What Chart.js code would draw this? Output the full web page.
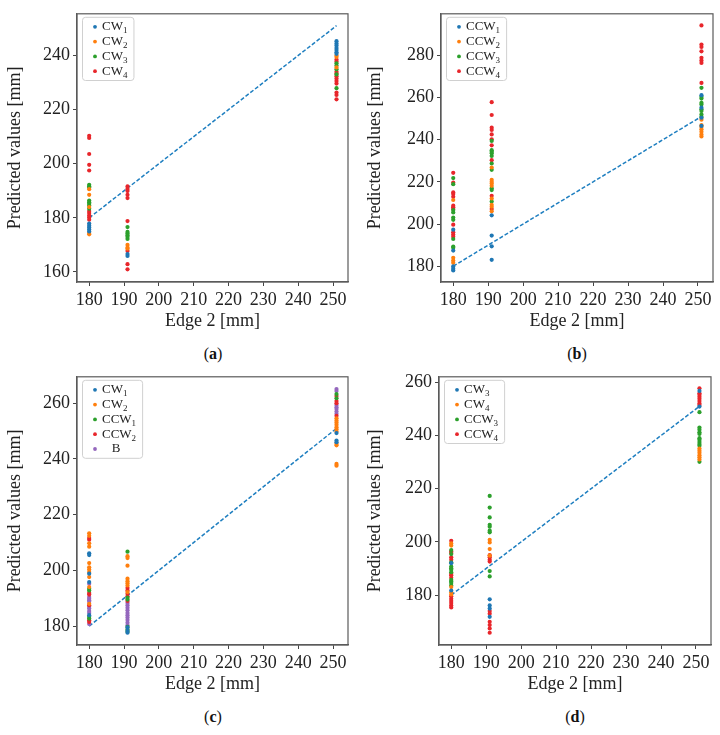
<!DOCTYPE html>
<html>
<head>
<meta charset="utf-8">
<script src="https://cdn.jsdelivr.net/npm/chart.js@4.4.0/dist/chart.umd.min.js"></script>
<style>
  html, body { margin: 0; padding: 0; background: #fff; }
  body { width: 720px; height: 735px; position: relative; overflow: hidden; }
  .panel { position: absolute; width: 360px; height: 340px; }
  .letter {
    position: absolute; width: 120px; text-align: center;
    font: 16px "Liberation Serif", serif; color: #111;
  }
</style>
</head>
<body>
<div class="panel" style="left:0;top:0"><canvas id="chartA"></canvas></div>
<div class="panel" style="left:360px;top:0"><canvas id="chartB"></canvas></div>
<div class="panel" style="left:0;top:363px"><canvas id="chartC"></canvas></div>
<div class="panel" style="left:360px;top:363px"><canvas id="chartD"></canvas></div>
<div class="letter" style="left:153px;top:345px">(<b>a</b>)</div>
<div class="letter" style="left:517px;top:345px">(<b>b</b>)</div>
<div class="letter" style="left:153px;top:708px">(<b>c</b>)</div>
<div class="letter" style="left:515px;top:708px">(<b>d</b>)</div>
<script>
// x positions of the three measured groups
const X_GROUPS = [180, 191, 251];
const X_TICKS = [180, 190, 200, 210, 220, 230, 240, 250];
// reference line y = x
const REF_LINE_X = [180, 251];
const REF_LINE_Y = [180, 251];

// (a) CW
const A_CW1 = [[177.9, 177.1, 176.4, 175.7, 175.0], [166.6, 165.9], [245.3, 244.4, 243.7, 242.8, 242.0, 241.2, 240.6]];
const A_CW2 = [[190.6, 188.5, 184.0, 174.4, 173.9], [170.0, 169.0, 168.6], [240.0, 239.4, 235.6]];
const A_CW3 = [[192.2, 191.7, 191.2, 186.4, 185.8, 185.2, 184.6, 183.4], [176.6, 174.8, 174.2, 173.6, 173.0, 172.2], [237.1, 236.3, 234.9, 233.0, 227.9]];
const A_CW4 = [[210.3, 209.5, 203.6, 199.6, 197.5, 182.5, 181.8, 180.9, 180.1, 179.3], [191.6, 190.7, 189.9, 188.5, 187.3, 178.8, 167.8, 162.9, 161.0], [238.5, 237.8, 234.0, 233.3, 232.3, 231.5, 230.6, 229.6, 226.3, 225.4, 223.8]];
const A_Y_TICKS = [160, 180, 200, 220, 240];

// (b) CCW
const B_CCW1 = [[197.3, 187.4, 179.9, 178.8, 178.0], [204.1, 194.5, 189.4, 183.0], [261.1, 255.2, 250.4, 246.5]];
const B_CCW2 = [[211.4, 184.0, 182.7, 181.6], [226.8, 221.0, 220.0, 219.2, 218.1, 212.1, 209.1, 208.2, 206.0], [249.5, 246.9, 246.0, 244.9, 243.8, 242.5, 241.5]];
const B_CCW3 = [[221.8, 218.9, 206.6, 205.5, 203.1, 202.0, 192.9, 189.3, 188.7], [239.4, 235.0, 234.3, 233.6, 232.3, 228.7, 225.7, 217.0, 216.1, 210.7], [264.6, 260.3, 259.5, 257.5, 256.7, 254.4, 253.6, 252.0, 250.8]];
const B_CCW4 = [[224.3, 219.7, 215.0, 214.2, 212.9, 208.7, 207.9, 207.1, 199.7, 196.1, 195.0, 194.0], [257.8, 251.7, 245.7, 244.6, 242.5, 240.2, 237.3, 230.3, 213.4, 207.1], [294.2, 285.1, 284.0, 281.9, 278.8, 277.6, 276.4, 266.9]];
const B_Y_TICKS = [180, 200, 220, 240, 260, 280];

// (c) CW / CCW / B
const C_CW1 = [[206.1, 205.5, 198.8, 195.8, 183.9], [179.5, 178.3, 177.6], [249.3, 246.6, 246.0]];
const C_CW2 = [[213.3, 212.4, 209.7, 208.5, 202.6, 201.1, 200.3, 199.4, 197.6, 194.0, 188.0], [205.1, 204.4, 201.7, 197.0, 196.1, 195.4, 194.6, 192.2], [254.6, 253.8, 253.1, 252.3, 251.4, 250.7, 249.9, 245.5, 244.9, 238.2, 237.6]];
const C_CCW1 = [[193.4, 192.8, 183.3, 182.7], [206.7, 190.2, 189.5, 179.7, 178.8, 178.0], [263.3, 261.8]];
const C_CCW2 = [[211.6, 211.0, 191.9, 191.3, 187.5, 182.1, 181.5], [193.7, 192.8, 191.6, 190.7, 189.0], [262.6, 260.8, 260.0, 255.5]];
const C_B = [[195.2, 190.4, 189.8, 189.3, 188.7, 186.9, 186.3, 185.4, 184.7, 180.7], [188.3, 187.5, 186.6, 185.7, 184.7, 183.9, 183.1, 182.2, 181.2, 180.3], [265.1, 264.4, 259.4, 258.6, 257.9, 257.0, 256.2]];
const C_Y_TICKS = [180, 200, 220, 240, 260];

// (d) CW / CCW
const D_CW3 = [[192.0, 181.7], [178.4, 176.1, 174.9, 171.8], [256.8, 250.9]];
const D_CW4 = [[199.4, 198.6, 183.0, 181.0, 180.2], [200.8, 199.8, 197.3, 194.8], [235.1, 234.3, 233.5, 232.6, 231.8, 231.0]];
const D_CCW3 = [[196.9, 195.4, 192.3, 190.7, 190.1, 189.5, 188.6, 185.7, 185.1, 184.5, 183.6], [217.3, 212.9, 209.2, 206.4, 205.7, 204.2, 203.6, 189.0, 187.0], [248.8, 243.0, 242.2, 241.2, 240.6, 239.0, 238.4, 237.6, 236.8, 236.2, 230.1]];
const D_CCW4 = [[200.4, 196.4, 195.8, 194.2, 193.3, 188.0, 187.4, 186.5, 179.5, 178.6, 177.8, 177.0, 176.1, 175.3], [195.0, 194.2, 193.3, 192.6, 174.0, 173.0, 169.9, 168.7, 167.4, 165.8], [257.8, 255.9, 255.3, 254.6, 253.8, 253.0, 252.1, 251.5]];
const D_Y_TICKS = [180, 200, 220, 240, 260];

const COLORS = ["#1f77b4", "#ff7f0e", "#2ca02c", "#e8262b", "#9467bd"];
const SERIF = "'Liberation Serif', 'DejaVu Serif', serif";

/**
 * 凡例の枠と項目を描く (下付き文字つき)
 */
const legendBoxPlugin = {
  id: "legendBox",
  afterDatasetsDraw(chart) {
    const ctx = chart.ctx;
    const area = chart.chartArea;
    const items = chart.data.datasets.filter((d) => d.legendText);
    const baseFont = "13px " + SERIF;
    const subFont = "9px " + SERIF;
    ctx.save();
    let textW = 0;
    items.forEach((d) => {
      const [base, sub] = d.legendText.split("_");
      ctx.font = baseFont;
      let w = ctx.measureText(base).width;
      if (sub) {
        ctx.font = subFont;
        w += ctx.measureText(sub).width;
      }
      textW = Math.max(textW, w);
    });
    const rowH = 14.8;
    const x0 = area.left + 5;
    const y0 = area.top + 3;
    const w = 20 + textW + 6;
    const h = items.length * rowH + 4;
    ctx.beginPath();
    if (ctx.roundRect) ctx.roundRect(x0 + 0.5, y0 + 0.5, w, h, 3);
    else ctx.rect(x0 + 0.5, y0 + 0.5, w, h);
    ctx.fillStyle = "rgba(255,255,255,0.85)";
    ctx.fill();
    ctx.strokeStyle = "#d0d0d0";
    ctx.lineWidth = 1;
    ctx.stroke();
    items.forEach((d, i) => {
      const cy = y0 + 10 + i * rowH;
      ctx.beginPath();
      ctx.arc(x0 + 13, cy, 1.9, 0, Math.PI * 2);
      ctx.fillStyle = d.backgroundColor;
      ctx.fill();
      const [base, sub] = d.legendText.split("_");
      ctx.fillStyle = "#222";
      ctx.textBaseline = "middle";
      ctx.font = baseFont;
      ctx.fillText(base, x0 + 20, cy);
      if (sub) {
        const bw = ctx.measureText(base).width;
        ctx.font = subFont;
        ctx.fillText(sub, x0 + 20 + bw, cy + 4);
      }
    });
    ctx.restore();
  },
};

/**
 * 描画領域の四辺の枠を描く
 */
const frameBoxPlugin = {
  id: "frameBox",
  afterDraw(chart) {
    const ctx = chart.ctx;
    const a = chart.chartArea;
    ctx.save();
    ctx.strokeStyle = "#5a5a5a";
    ctx.lineWidth = 1.2;
    ctx.strokeRect(a.left, a.top, a.right - a.left, a.bottom - a.top);
    ctx.restore();
  },
};

const toPoints = (groups) =>
  groups.flatMap((vals, gi) => vals.map((v) => ({ x: X_GROUPS[gi], y: v })));

/**
 * パネル1枚ぶんのグラフを作る。
 */
const drawPanel = (canvasId, series, labels, yTicks, yMin, yMax, yAxisW, rightPad) => {
  const datasets = series.map((groups, i) => ({
    legendText: labels[i],
    data: toPoints(groups),
    pointRadius: 2.1,
    pointHoverRadius: 2.1,
    pointBorderWidth: 0,
    backgroundColor: COLORS[i],
    borderColor: COLORS[i],
    showLine: false,
  }));
  datasets.push({
    data: REF_LINE_X.map((x, i) => ({ x: x, y: REF_LINE_Y[i] })),
    showLine: true,
    pointRadius: 0,
    borderColor: "#1f7fc0",
    borderWidth: 1.5,
    borderDash: [4, 2],
    fill: false,
  });

  const ctx = document.getElementById(canvasId).getContext("2d");
  const options = {
    animation: false,
    responsive: true,
    maintainAspectRatio: false,
    layout: { padding: { top: 12, right: rightPad, left: 0, bottom: 0 } },
    plugins: {
      legend: { display: false },
      tooltip: { enabled: false },
    },
    scales: {
      x: {
        type: "linear",
        min: 176.5,
        max: 254.3,
        afterBuildTicks: (scale) => {
          scale.ticks = X_TICKS.map((v) => ({ value: v }));
        },
        afterFit: (scale) => {
          scale.height = 58;
        },
        grid: {
          drawOnChartArea: false,
          drawTicks: true,
          tickLength: 4,
          tickColor: "#444",
        },
        border: { display: true, color: "#5a5a5a", width: 1.2 },
        ticks: {
          color: "#222",
          padding: 3,
          maxRotation: 0,
          font: { family: SERIF, size: 18 },
        },
        title: {
          display: true,
          text: "Edge 2 [mm]",
          color: "#222",
          padding: { top: 0, bottom: 8 },
          font: { family: SERIF, size: 18 },
        },
      },
      y: {
        type: "linear",
        min: yMin,
        max: yMax,
        afterBuildTicks: (scale) => {
          scale.ticks = yTicks.map((v) => ({ value: v }));
        },
        afterFit: (scale) => {
          scale.width = yAxisW;
        },
        grid: {
          drawOnChartArea: false,
          drawTicks: true,
          tickLength: 4,
          tickColor: "#444",
        },
        border: { display: true, color: "#5a5a5a", width: 1.2 },
        ticks: {
          color: "#222",
          padding: 3,
          font: { family: SERIF, size: 18 },
        },
        title: {
          display: true,
          text: "Predicted values [mm]",
          color: "#222",
          padding: { top: 4, bottom: 0 },
          font: { family: SERIF, size: 18 },
        },
      },
    },
  };
  return new Chart(ctx, {
    type: "scatter",
    data: { datasets: datasets },
    options: options,
    plugins: [legendBoxPlugin, frameBoxPlugin],
  });
};

drawPanel("chartA", [A_CW1, A_CW2, A_CW3, A_CW4], ["CW_1", "CW_2", "CW_3", "CW_4"], A_Y_TICKS, 156.3, 255.4, 77, 12);
drawPanel("chartB", [B_CCW1, B_CCW2, B_CCW3, B_CCW4], ["CCW_1", "CCW_2", "CCW_3", "CCW_4"], B_Y_TICKS, 172.5, 299.7, 81, 7);
drawPanel("chartC", [C_CW1, C_CW2, C_CCW1, C_CCW2, C_B], ["CW_1", "CW_2", "CCW_1", "CCW_2", "   B"], C_Y_TICKS, 173.2, 269.5, 77, 12);
drawPanel("chartD", [D_CW3, D_CW4, D_CCW3, D_CCW4], ["CW_3", "CW_4", "CCW_3", "CCW_4"], D_Y_TICKS, 161.2, 262.1, 79, 9);
</script>
</body>
</html>
